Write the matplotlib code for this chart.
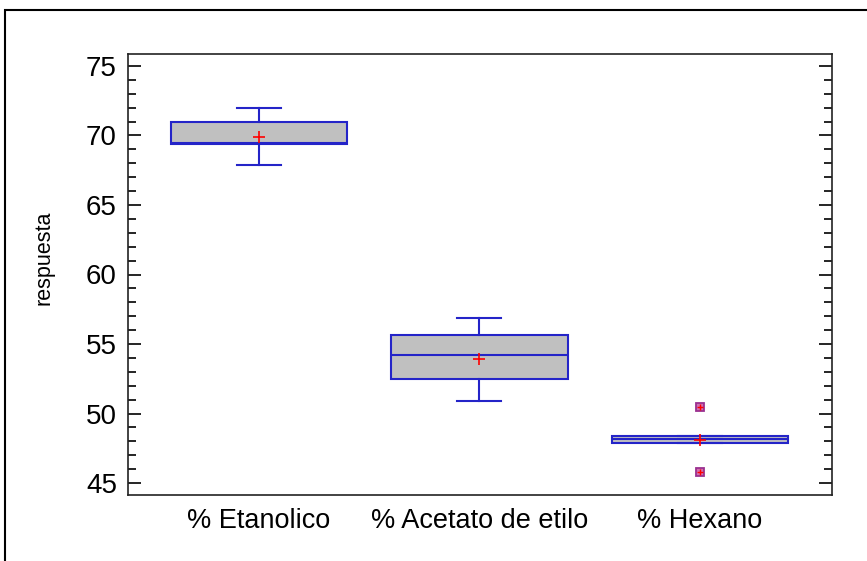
import matplotlib.pyplot as plt
from matplotlib.patches import Rectangle
from matplotlib.ticker import MultipleLocator

plt.rcParams['font.family'] = ['Liberation Sans', 'DejaVu Sans']

# box plot summary
groups = ['% Etanolico', '% Acetato de etilo', '% Hexano']
whis_low = [67.9, 50.9, 47.9]
q1 = [69.4, 52.5, 47.9]
medians = [69.45, 54.2, 48.15]
q3 = [71.0, 55.65, 48.4]
whis_high = [72.0, 56.9, 48.4]
means = [69.9, 53.95, 48.1]
outliers = [[], [], [50.45, 45.8]]

stats = []
for i in range(len(groups)):
    stats.append(dict(label=groups[i], whislo=whis_low[i], q1=q1[i], med=medians[i],
                      q3=q3[i], whishi=whis_high[i], mean=means[i], fliers=outliers[i]))

fig = plt.figure(figsize=(8.67, 5.61), dpi=100)
# outer frame of the original image
fig.patches.append(Rectangle((5 / 867, -0.1), 1.2, 1 - 10 / 561 + 0.1, transform=fig.transFigure,
                             fill=False, edgecolor='black', linewidth=1.5))
ax = fig.add_axes([128 / 867, 66 / 561, 704 / 867, 441 / 561])

blue = '#2424c8'
ax.bxp(stats, positions=[1, 2, 3], widths=0.8, patch_artist=True, showmeans=True,
       boxprops=dict(facecolor='#c0c0c0', edgecolor=blue, linewidth=1.5),
       medianprops=dict(color=blue, linewidth=1.5),
       whiskerprops=dict(color=blue, linewidth=1.5),
       capprops=dict(color=blue, linewidth=1.5),
       capwidths=0.2,
       meanprops=dict(marker='+', markeredgecolor='red', markersize=8, markeredgewidth=1.2),
       flierprops=dict(marker='s', markerfacecolor='#d070b0', markeredgecolor='#9a3090',
                       markersize=6, markeredgewidth=1.3))
for i, fl in enumerate(outliers):
    ax.plot([i + 1] * len(fl), fl, '+', color='red', markersize=5, markeredgewidth=1)

ax.set_xlim(0.406, 3.6)
ax.set_ylim(44.14, 75.86)
ax.yaxis.set_major_locator(MultipleLocator(5))
ax.yaxis.set_minor_locator(MultipleLocator(1))
ax.tick_params(axis='y', which='both', direction='in', left=True, right=True,
               labelsize=20, pad=8, width=1.2)
ax.tick_params(axis='y', which='major', length=9.5)
ax.tick_params(axis='y', which='minor', length=5.5)
ax.tick_params(axis='x', length=0, labelsize=19.5, pad=9)
for s in ax.spines.values():
    s.set_linewidth(1.2)
    s.set_color('#222222')
ax.set_ylabel('respuesta', fontsize=15.5)
ax.yaxis.set_label_coords(-0.1037, 0.537)

fig.savefig('out.png', dpi=100)
